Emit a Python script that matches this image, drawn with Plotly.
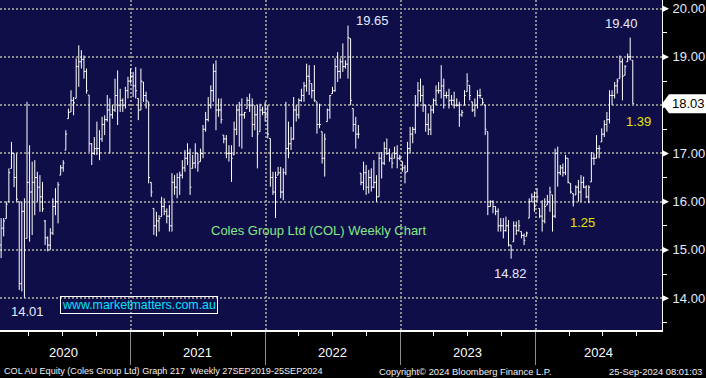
import plotly.graph_objects as go
import pandas as pd

# ---------------- data (weekly OHLC, COL AU) ----------------
first_week = "2020-01-17"

opens = [
    15.1, 15.45, 15.65, 16.0, 16.69, 17.0, 16.5, 16.0, 14.3, 15.8,
    15.24, 16.4, 16.2, 16.4, 16.5, 16.3, 16.1, 15.6, 15.25, 15.1,
    15.35, 15.9, 16.0, 16.55, 16.7, 17.07, 17.72, 17.86, 18.1, 18.14,
    18.8, 18.9, 18.95, 18.7, 18.21, 17.2, 17.0, 17.1, 17.1, 17.3,
    17.6, 17.7, 17.9, 17.8, 17.9, 18.2, 18.0, 18.1, 18.0, 18.3,
    18.5, 18.6, 18.4, 18.14,
    17.9, 18.48, 18.2, 18.07, 16.4, 15.86, 15.5, 15.6, 15.69, 15.9,
    15.8, 15.7, 15.5, 16.4, 16.3, 16.5, 16.55, 16.7, 16.9, 17.0,
    16.69, 16.8, 17.0, 16.83, 17.0, 17.5, 17.7, 18.0, 18.3, 18.7,
    17.9, 17.9, 17.38, 17.3, 17.0, 17.0, 16.97, 17.5, 17.9, 17.8,
    17.8, 17.93, 18.1, 18.0, 17.6, 17.8, 17.45, 17.9, 17.85, 17.8,
    17.31, 16.5, 16.2, 16.55, 16.6, 16.2, 16.6, 17.1, 17.2, 17.3,
    17.9, 17.8, 18.1, 18.2, 18.4, 18.6, 18.45, 18.3, 18.07, 17.6,
    17.45, 16.9, 17.66, 17.9, 18.24, 18.3, 18.8, 18.7, 18.9, 18.8,
    18.85, 19.38, 17.93, 17.6, 17.4, 16.59, 16.4, 16.6, 16.3, 16.5,
    16.3, 16.4, 16.1, 16.9, 16.8, 17.1, 17.0, 16.9, 16.9, 17.0,
    16.9,
    16.83, 16.7, 16.62, 17.1, 17.4, 17.5, 18.0, 18.3, 18.2, 18.0,
    17.6, 17.5, 17.9, 18.1, 18.3, 18.3, 18.4, 18.2, 18.2, 18.1,
    18.1, 18.0, 18.0, 17.8, 18.0, 18.28, 18.41, 18.07, 17.9, 18.0,
    18.2, 18.14, 18.0, 17.45, 15.9, 16.0, 15.9, 15.8, 15.5, 15.5,
    15.4, 15.5, 15.1, 15.17, 15.5, 15.4, 15.38, 15.3, 15.28, 15.66,
    16.0, 16.1, 16.0, 15.86, 15.7, 15.6, 15.93, 16.0, 16.14, 15.7,
    17.0, 16.6, 16.7, 16.6, 16.9, 16.38, 16.17, 16.14, 16.3, 16.2,
    16.4, 16.3, 16.1, 16.41, 16.9, 16.9, 17.1, 17.24, 17.4, 17.6,
    17.7, 18.2, 18.2, 18.4, 18.55, 18.9, 18.62, 18.9, 19.0, 18.93,
]

highs = [
    15.66, 15.66, 16.0, 16.69, 17.24, 17.0, 17.0, 16.0, 16.0, 16.07,
    18.07, 17.17, 16.83, 16.86, 16.62, 16.55, 16.41, 15.62, 15.28, 15.45,
    16.07, 16.28, 16.41, 16.76, 16.86, 17.48, 17.93, 18.31, 18.17, 18.97,
    19.24, 19.14, 19.03, 18.76, 18.21, 17.21, 17.34, 17.66, 17.48, 17.76,
    17.79, 18.21, 18.14, 18.0, 18.55, 18.72, 18.34, 18.14, 18.38, 18.59,
    18.76, 18.69, 18.79, 18.14,
    18.76, 18.48, 18.28, 18.07, 16.4, 15.86, 15.79, 15.72, 16.1, 16.07,
    15.86, 15.93, 16.59, 16.55, 16.59, 16.62, 16.86, 17.07, 17.21, 17.1,
    16.97, 17.21, 17.0, 17.1, 17.59, 17.86, 18.17, 18.41, 18.86, 18.93,
    18.14, 18.14, 17.38, 17.38, 17.17, 17.17, 17.66, 18.0, 18.07, 18.14,
    17.86, 18.17, 18.24, 18.14, 18.0, 18.0, 18.03, 17.97, 18.07, 18.0,
    17.31, 16.62, 16.62, 16.72, 16.72, 16.69, 18.07, 17.66, 17.55, 18.17,
    18.0, 18.14, 18.34, 18.48, 18.86, 18.83, 18.45, 18.83, 18.07, 18.03,
    17.45, 17.41, 17.93, 18.21, 18.38, 18.97, 19.1, 18.97, 19.28, 18.93,
    19.65, 19.38, 17.93, 17.76, 17.59, 16.59, 16.83, 16.76, 16.66, 16.69,
    16.86, 16.55, 17.03, 17.03, 17.24, 17.31, 17.1, 17.0, 17.14, 17.17,
    16.97,
    16.83, 16.76, 17.24, 17.55, 17.55, 18.21, 18.48, 18.55, 18.41, 18.0,
    17.83, 18.0, 18.14, 18.41, 18.48, 18.83, 18.55, 18.28, 18.34, 18.21,
    18.28, 18.14, 18.07, 17.9, 18.31, 18.66, 18.41, 18.07, 18.14, 18.31,
    18.34, 18.14, 18.0, 17.45, 16.03, 16.03, 15.9, 15.86, 15.66, 15.66,
    15.69, 15.62, 15.1, 15.59, 15.59, 15.62, 15.38, 15.34, 15.38, 16.07,
    16.17, 16.21, 16.28, 15.86, 16.03, 16.07, 16.14, 16.31, 16.14, 17.1,
    17.14, 16.76, 16.79, 16.97, 16.9, 16.38, 16.17, 16.34, 16.45, 16.55,
    16.52, 16.34, 16.34, 17.03, 17.0, 17.38, 17.17, 17.52, 17.69, 17.86,
    18.31, 18.31, 18.48, 18.55, 19.03, 18.97, 18.83, 19.07, 19.4, 18.93,
]

lows = [
    14.83, 15.28, 15.65, 16.0, 16.69, 16.3, 16.0, 14.17, 14.14, 14.01,
    15.24, 15.17, 15.31, 15.72, 16.0, 15.79, 15.79, 15.1, 14.97, 15.0,
    15.31, 15.72, 15.55, 16.55, 16.62, 17.07, 17.72, 17.86, 17.79, 18.14,
    18.38, 18.76, 18.55, 18.24, 17.03, 16.76, 16.97, 16.97, 16.86, 17.24,
    17.38, 17.66, 17.0, 17.72, 17.86, 17.59, 17.86, 17.86, 17.93, 18.14,
    18.45, 18.17, 18.14, 17.69,
    17.9, 18.07, 17.93, 16.38, 16.1, 15.31, 15.28, 15.38, 15.69, 15.72,
    15.55, 15.38, 15.38, 16.14, 16.07, 16.14, 16.48, 16.62, 16.76, 16.14,
    16.69, 16.69, 16.62, 16.83, 16.9, 17.45, 17.66, 17.93, 18.07, 17.48,
    17.76, 17.62, 17.21, 16.9, 16.83, 16.41, 16.97, 17.38, 17.14, 17.1,
    17.72, 17.93, 17.86, 17.34, 17.48, 16.69, 17.45, 17.79, 17.66, 17.31,
    16.31, 16.14, 15.66, 16.55, 16.07, 16.03, 16.55, 16.9, 17.07, 17.28,
    17.66, 17.72, 18.07, 18.07, 18.28, 18.21, 18.14, 18.07, 17.41, 17.52,
    16.79, 16.52, 17.66, 17.72, 18.24, 18.28, 18.48, 18.55, 18.69, 18.76,
    18.55, 18.0, 17.45, 17.1, 17.31, 16.34, 16.24, 16.14, 16.17, 16.21,
    16.28, 16.0, 16.1, 16.48, 16.76, 16.97, 16.83, 16.69, 16.9, 16.69,
    16.86,
    16.62, 16.38, 16.62, 17.0, 17.21, 17.41, 17.97, 18.07, 17.86, 17.45,
    17.38, 17.38, 17.83, 18.0, 18.24, 18.14, 17.93, 18.14, 17.93, 18.0,
    17.93, 17.97, 17.55, 17.76, 18.0, 18.28, 18.1, 17.86, 17.76, 17.93,
    18.14, 18.0, 17.38, 15.72, 15.9, 15.76, 15.72, 15.38, 15.38, 15.24,
    15.38, 15.07, 14.82, 15.17, 15.31, 15.38, 15.24, 15.1, 15.28, 15.66,
    16.0, 15.79, 16.0, 15.66, 15.38, 15.55, 15.93, 15.79, 15.38, 15.66,
    16.31, 16.55, 16.52, 16.55, 16.38, 16.17, 15.9, 16.14, 16.0, 16.0,
    16.28, 16.07, 15.97, 16.41, 16.76, 16.9, 16.9, 17.24, 17.34, 17.45,
    17.62, 18.0, 18.14, 18.24, 18.55, 18.1, 18.62, 18.9, 18.93, 18.03,
]

closes = [
    15.45, 15.6, 15.95, 16.6, 17.0, 16.5, 16.05, 14.3, 15.8, 15.0,
    16.4, 16.2, 16.4, 16.5, 16.3, 16.1, 15.85, 15.25, 15.1, 15.35,
    15.9, 16.0, 16.35, 16.7, 16.8, 17.4, 17.85, 18.1, 18.05, 18.8,
    18.9, 18.95, 18.7, 18.3, 17.2, 17.0, 17.1, 17.1, 17.3, 17.6,
    17.7, 17.9, 17.8, 17.9, 18.2, 18.0, 18.1, 18.0, 18.3, 18.5,
    18.6, 18.4, 18.3, 17.9,
    18.5, 18.2, 18.1, 16.5, 16.2, 15.5, 15.6, 15.65, 15.9, 15.8,
    15.7, 15.5, 16.4, 16.3, 16.5, 16.55, 16.7, 16.9, 17.0, 16.3,
    16.8, 17.0, 16.8, 17.0, 17.5, 17.7, 18.0, 18.3, 18.7, 17.9,
    17.9, 17.7, 17.3, 17.0, 17.0, 16.9, 17.5, 17.9, 17.8, 17.8,
    17.85, 18.1, 18.0, 17.6, 17.8, 17.4, 17.9, 17.85, 17.8, 17.4,
    16.5, 16.2, 16.5, 16.6, 16.2, 16.6, 17.1, 17.2, 17.3, 17.9,
    17.8, 18.1, 18.2, 18.4, 18.6, 18.5, 18.3, 18.1, 17.6, 17.6,
    16.9, 17.3, 17.9, 18.2, 18.3, 18.8, 18.7, 18.9, 18.8, 18.85,
    19.4, 18.1, 17.6, 17.4, 17.4, 16.4, 16.6, 16.3, 16.5, 16.3,
    16.4, 16.1, 16.9, 16.8, 17.1, 17.0, 16.9, 16.8, 17.0, 16.9,
    16.9,
    16.7, 16.6, 17.1, 17.4, 17.5, 18.0, 18.3, 18.2, 18.0, 17.6,
    17.5, 17.9, 18.1, 18.3, 18.3, 18.4, 18.2, 18.2, 18.1, 18.1,
    18.0, 18.0, 17.8, 17.85, 18.2, 18.5, 18.2, 17.9, 18.0, 18.2,
    18.2, 18.05, 17.5, 15.9, 16.0, 15.9, 15.8, 15.5, 15.5, 15.4,
    15.5, 15.1, 15.0, 15.5, 15.4, 15.5, 15.3, 15.2, 15.35, 16.0,
    16.1, 15.9, 16.1, 15.7, 15.6, 15.9, 16.0, 16.2, 15.7, 17.0,
    16.6, 16.7, 16.6, 16.9, 16.4, 16.2, 16.0, 16.3, 16.2, 16.4,
    16.3, 16.1, 16.3, 16.9, 16.9, 17.1, 17.1, 17.4, 17.6, 17.7,
    18.2, 18.2, 18.4, 18.5, 18.9, 18.6, 18.8, 19.0, 19.0, 18.03,
]

n = len(closes)
assert len(opens) == n and len(highs) == n and len(lows) == n, (len(opens), len(highs), len(lows), n)
weeks = pd.date_range(first_week, periods=n, freq="W-FRI")

year_labels = ["2020", "2021", "2022", "2023", "2024"]
year_label_dates = ["2020-07-05", "2021-07-02", "2022-07-02", "2023-07-02", "2024-06-20"]
year_starts = ["2021-01-01", "2022-01-01", "2023-01-01", "2024-01-01"]
price_ticks = [14, 15, 16, 17, 18, 19, 20]
last_price = closes[-1]

# ---------------- style ----------------
FONT = "Liberation Sans, Arial, sans-serif"
BG = "#000000"
PLOT_BG = "#100e48"
GRID = "#8c8c8c"
LABEL = "#e4ebff"
W_PLOT, H_PLOT = 662, 330
Y0, Y1 = 13.34, 20.18
X_RANGE = ["2020-01-14", "2024-12-08"]


def px(x):
    return x / W_PLOT


def py(y):
    return 1 - y / H_PLOT


def yv(v):
    return (v - Y0) / (Y1 - Y0)


fig = go.Figure(go.Ohlc(
    x=weeks, open=opens, high=highs, low=lows, close=closes,
    increasing=dict(line=dict(color="white", width=1)),
    decreasing=dict(line=dict(color="white", width=1)),
    tickwidth=0.5, hoverinfo="skip", showlegend=False,
))

shapes = []
# arrow-like major ticks on the right axis
for v in price_ticks:
    shapes.append(dict(
        type="path", xref="paper", yref="paper",
        path=f"M 1,{yv(v) - 3.5 / H_PLOT} L 1,{yv(v) + 3.5 / H_PLOT} L {1 + 7 / W_PLOT},{yv(v)} Z",
        fillcolor="white", line=dict(width=0), layer="above",
    ))
# last price box
yp = yv(last_price)
shapes.append(dict(
    type="path", xref="paper", yref="paper",
    path=(f"M 1,{yp} L {1 + 7 / W_PLOT},{yp + 9.5 / H_PLOT} L {1 + 50 / W_PLOT},{yp + 9.5 / H_PLOT} "
          f"L {1 + 50 / W_PLOT},{yp - 9.5 / H_PLOT} L {1 + 7 / W_PLOT},{yp - 9.5 / H_PLOT} Z"),
    fillcolor="white", line=dict(width=0), layer="above",
))

annotations = []
annotations.append(dict(xref="paper", yref="paper", x=688 / W_PLOT, y=yp, text=f"{last_price:.2f}",
                        showarrow=False, font=dict(family=FONT, size=13, color="black"),
                        xanchor="center", yanchor="middle"))

value_labels = [("19.65", 372, 21, LABEL), ("14.01", 27, 311, LABEL), ("14.82", 510, 273, LABEL),
                ("19.40", 621, 23, LABEL), ("1.39", 638, 122, "#e6e600"), ("1.25", 582, 222, "#e6e600")]
for t, x, y, c in value_labels:
    annotations.append(dict(xref="paper", yref="paper", x=px(x), y=py(y), text=t, showarrow=False,
                            font=dict(family=FONT, size=13, color=c), xanchor="center", yanchor="middle"))

annotations.append(dict(xref="paper", yref="paper", x=px(209), y=py(231),
                        text="Coles Group Ltd (COL) Weekly Chart", showarrow=False,
                        font=dict(family=FONT, size=13, color="#86e886"),
                        xanchor="left", yanchor="middle"))
annotations.append(dict(xref="paper", yref="paper", x=px(60), y=py(304.5),
                        text="www.marketmatters.com.au", showarrow=False,
                        font=dict(family=FONT, size=12.4, color="#00e0ff"),
                        xanchor="left", yanchor="middle",
                        bordercolor="white", borderwidth=1, borderpad=1))

for t, d in zip(year_labels, year_label_dates):
    annotations.append(dict(xref="x", yref="paper", x=d, y=py(352), text=t, showarrow=False,
                            font=dict(family=FONT, size=13, color="white"),
                            xanchor="center", yanchor="middle"))

annotations += [
    dict(xref="paper", yref="paper", x=px(2), y=py(371), xanchor="left", yanchor="middle",
         text="COL AU Equity (Coles Group Ltd) Graph 217  Weekly 27SEP2019-25SEP2024",
         showarrow=False, font=dict(family=FONT, size=9.1, color="#f0f0f0")),
    dict(xref="paper", yref="paper", x=px(465), y=py(371), xanchor="center", yanchor="middle",
         text="Copyright© 2024 Bloomberg Finance L.P.", showarrow=False,
         font=dict(family=FONT, size=9.4, color="#f0f0f0")),
    dict(xref="paper", yref="paper", x=px(704), y=py(371), xanchor="right", yanchor="middle",
         text="25-Sep-2024 08:01:03", showarrow=False,
         font=dict(family=FONT, size=9.4, color="#f0f0f0")),
]

fig.update_layout(
    width=706, height=378,
    margin=dict(l=0, r=706 - W_PLOT, t=0, b=378 - H_PLOT, autoexpand=False),
    paper_bgcolor=BG, plot_bgcolor=PLOT_BG,
    showlegend=False,
    shapes=shapes, annotations=annotations,
    xaxis=dict(
        type="date", range=X_RANGE, rangeslider=dict(visible=False),
        tickvals=year_starts, showticklabels=False,
        ticks="outside", ticklen=33, tickcolor=GRID, tickwidth=1,
        showgrid=True, gridcolor=GRID, griddash="2px,2px", gridwidth=2,
        showline=True, linecolor="white", linewidth=2,
        minor=dict(dtick="M3", tick0="2020-01-01", ticks="outside", ticklen=4,
                   tickcolor="white", tickwidth=1, showgrid=False),
        zeroline=False, fixedrange=True, automargin=False,
    ),
    yaxis=dict(
        side="right", range=[Y0, Y1],
        tickvals=price_ticks,
        ticktext=["" if v == 18 else f"{v:.2f}" for v in price_ticks],
        ticks="", ticklabelstandoff=7,
        tickfont=dict(family=FONT, size=13, color=LABEL),
        showgrid=True, gridcolor=GRID, griddash="2px,2px", gridwidth=2,
        showline=True, linecolor="white", linewidth=1,
        minor=dict(dtick=0.5, tick0=14, ticks="outside", ticklen=4,
                   tickcolor="white", tickwidth=1, showgrid=False),
        zeroline=False, fixedrange=True, automargin=False,
    ),
)

fig.write_html(
    "out.html",
    config={"displayModeBar": False},
    post_script="document.body.style.margin='0';document.body.style.overflow='hidden';",
)
